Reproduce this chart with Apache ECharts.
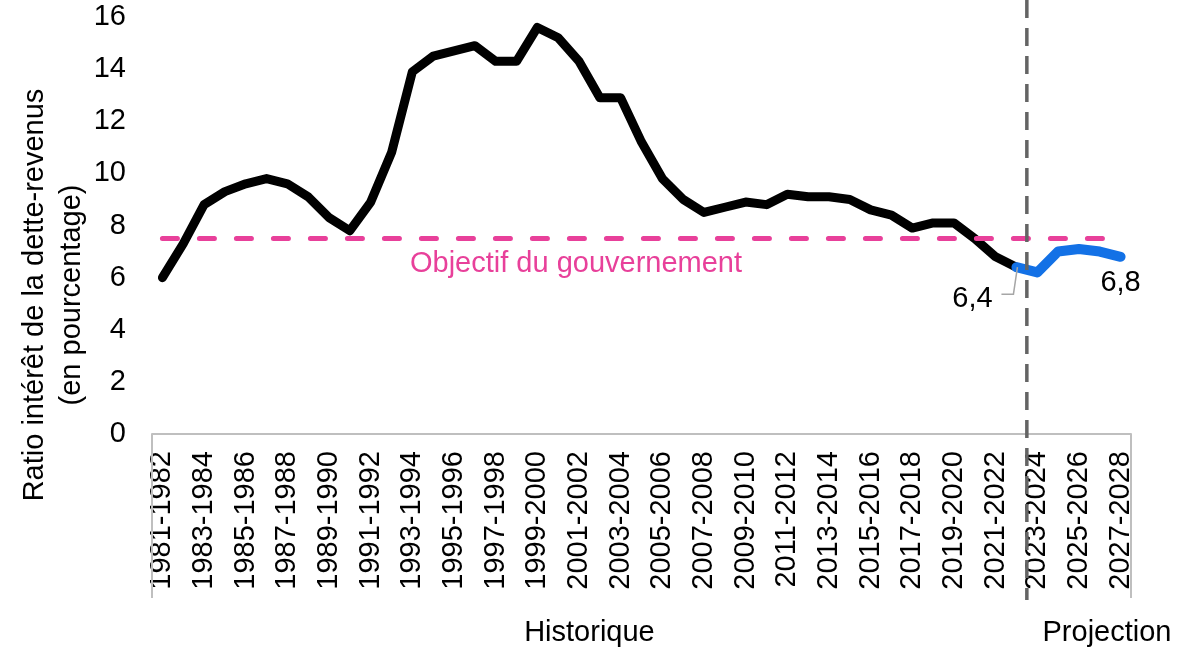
<!DOCTYPE html>
<html>
<head>
<meta charset="utf-8">
<script src="https://cdn.jsdelivr.net/npm/echarts@6/dist/echarts.min.js"></script>
<style>
html, body { margin: 0; padding: 0; background: #fff; }
#chart { width: 1201px; height: 649px; }
</style>
</head>
<body>
<div id="chart"></div>
<script>
var categories = [
    '1981-1982', '1982-1983', '1983-1984', '1984-1985', '1985-1986', '1986-1987',
    '1987-1988', '1988-1989', '1989-1990', '1990-1991', '1991-1992', '1992-1993',
    '1993-1994', '1994-1995', '1995-1996', '1996-1997', '1997-1998', '1998-1999',
    '1999-2000', '2000-2001', '2001-2002', '2002-2003', '2003-2004', '2004-2005',
    '2005-2006', '2006-2007', '2007-2008', '2008-2009', '2009-2010', '2010-2011',
    '2011-2012', '2012-2013', '2013-2014', '2014-2015', '2015-2016', '2016-2017',
    '2017-2018', '2018-2019', '2019-2020', '2020-2021', '2021-2022', '2022-2023',
    '2023-2024', '2024-2025', '2025-2026', '2026-2027', '2027-2028'
];

// historique : 1981-1982 à 2022-2023
var historique = [
    6.0, 7.3, 8.8, 9.3, 9.6, 9.8, 9.6, 9.1, 8.3, 7.8,
    8.9, 10.8, 13.9, 14.5, 14.7, 14.9, 14.3, 14.3, 15.6, 15.2,
    14.3, 12.9, 12.9, 11.2, 9.8, 9.0, 8.5, 8.7, 8.9, 8.8,
    9.2, 9.1, 9.1, 9.0, 8.6, 8.4, 7.9, 8.1, 8.1, 7.5,
    6.8, 6.4
];

// projection : 2022-2023 à 2027-2028
var projection = [6.4, 6.2, 7.0, 7.1, 7.0, 6.8];
var projStart = 41;

var objectif = 7.5;
var yMin = 0, yMax = 16, yStep = 2;

var FONT = '"Liberation Sans", Arial, sans-serif';
var FS = 29;

function fr(v) {
    return v.toFixed(1).replace('.', ',');
}

var chart = echarts.init(document.getElementById('chart'));

var projData = projection.map(function (v, i) {
    var item = { value: [categories[projStart + i], v] };
    if (i === 0 || i === projection.length - 1) {
        item.label = { show: true };
    }
    return item;
});

var option = {
    backgroundColor: '#ffffff',
    animation: false,
    grid: {
        left: 152,
        right: 70,
        top: 17,
        bottom: 215
    },
    xAxis: {
        type: 'category',
        data: categories,
        boundaryGap: true,
        axisLine: { lineStyle: { color: '#BFBFBF', width: 2 } },
        axisTick: { show: false },
        axisLabel: {
            interval: 1,
            rotate: 90,
            margin: 17,
            color: '#000',
            fontSize: FS,
            fontFamily: FONT
        }
    },
    yAxis: {
        type: 'value',
        min: yMin,
        max: yMax,
        interval: yStep,
        axisLine: { show: false },
        axisTick: { show: false },
        splitLine: { show: false },
        axisLabel: {
            margin: 26,
            color: '#000',
            fontSize: FS,
            fontFamily: FONT
        }
    },
    series: [{
        name: 'Historique',
        type: 'line',
        data: historique,
        symbol: 'none',
        z: 3,
        lineStyle: { color: '#000', width: 9, cap: 'round', join: 'round' },
        markLine: {
            silent: true,
            symbol: ['none', 'none'],
            z: 4,
            label: { show: false },
            lineStyle: { color: '#E8409A', width: 5, type: [15, 22], cap: 'round' },
            data: [[
                { coord: [categories[0], objectif] },
                { coord: [categories[categories.length - 1], objectif] }
            ]]
        }
    }, {
        name: 'Projection',
        type: 'line',
        data: projData,
        symbol: 'circle',
        symbolSize: 1,
        showSymbol: true,
        z: 5,
        itemStyle: { color: 'rgba(0,0,0,0)' },
        lineStyle: { color: '#1371E6', width: 10, cap: 'round', join: 'round' },
        label: {
            show: false,
            position: 'bottom',
            distance: 11,
            color: '#000',
            fontSize: FS,
            fontFamily: FONT,
            formatter: function (p) { return fr(p.value[1]); }
        },
        labelLayout: function (p) {
            if (p.dataIndex === 0) {
                return { dx: -44, dy: 6 };
            }
            return {};
        }
    }]
};

chart.setOption(option);

// éléments de mise en page calculés à partir des axes
var px = function (c) { return chart.convertToPixel({ xAxisIndex: 0 }, c); };
var py = function (v) { return chart.convertToPixel({ yAxisIndex: 0 }, v); };
var band = px(categories[1]) - px(categories[0]);
var leftEdge = px(categories[0]) - band / 2;
var rightEdge = px(categories[categories.length - 1]) + band / 2;
var divX = (px(categories[projStart]) + px(categories[projStart + 1])) / 2;
var axisY = py(0);
var p64 = chart.convertToPixel({ seriesIndex: 1 }, [categories[projStart], projection[0]]);

chart.setOption({
    graphic: [
        {
            type: 'line', z: 10, silent: true,
            shape: { x1: leftEdge, y1: axisY, x2: leftEdge, y2: axisY + 164 },
            style: { stroke: '#BFBFBF', lineWidth: 2 }
        },
        {
            type: 'line', z: 10, silent: true,
            shape: { x1: rightEdge, y1: axisY, x2: rightEdge, y2: axisY + 164 },
            style: { stroke: '#BFBFBF', lineWidth: 2 }
        },
        {
            // guide de l'étiquette 6,4
            type: 'polyline', z: 6, silent: true,
            shape: { points: [[p64[0] + 1, p64[1]], [p64[0] - 3, p64[1] + 27], [p64[0] - 15, p64[1] + 27]] },
            style: { stroke: '#A6A6A6', lineWidth: 1.5, fill: null }
        },
        {
            type: 'line', z: 20, silent: true,
            shape: { x1: divX, y1: 0, x2: divX, y2: 600 },
            style: { stroke: '#646464', lineWidth: 3.5, lineDash: [18, 10] }
        },
        {
            type: 'text', z: 10, silent: true,
            x: (leftEdge + divX) / 2, y: 633,
            style: { text: 'Historique', fill: '#000', font: FS + 'px ' + FONT, align: 'center', verticalAlign: 'middle' }
        },
        {
            type: 'text', z: 10, silent: true,
            x: rightEdge - 24, y: 633,
            style: { text: 'Projection', fill: '#000', font: FS + 'px ' + FONT, align: 'center', verticalAlign: 'middle' }
        },
        {
            type: 'text', z: 10, silent: true,
            x: 576, y: py(objectif) + 25,
            style: { text: 'Objectif du gouvernement', fill: '#E8409A', font: FS + 'px ' + FONT, align: 'center', verticalAlign: 'middle' }
        },
        {
            type: 'text', z: 10, silent: true,
            x: 53, y: 295, rotation: Math.PI / 2,
            style: {
                text: 'Ratio intérêt de la dette-revenus\n(en pourcentage)',
                fill: '#000', font: FS + 'px ' + FONT, lineHeight: 37,
                align: 'center', verticalAlign: 'middle'
            }
        }
    ]
});
</script>
</body>
</html>
